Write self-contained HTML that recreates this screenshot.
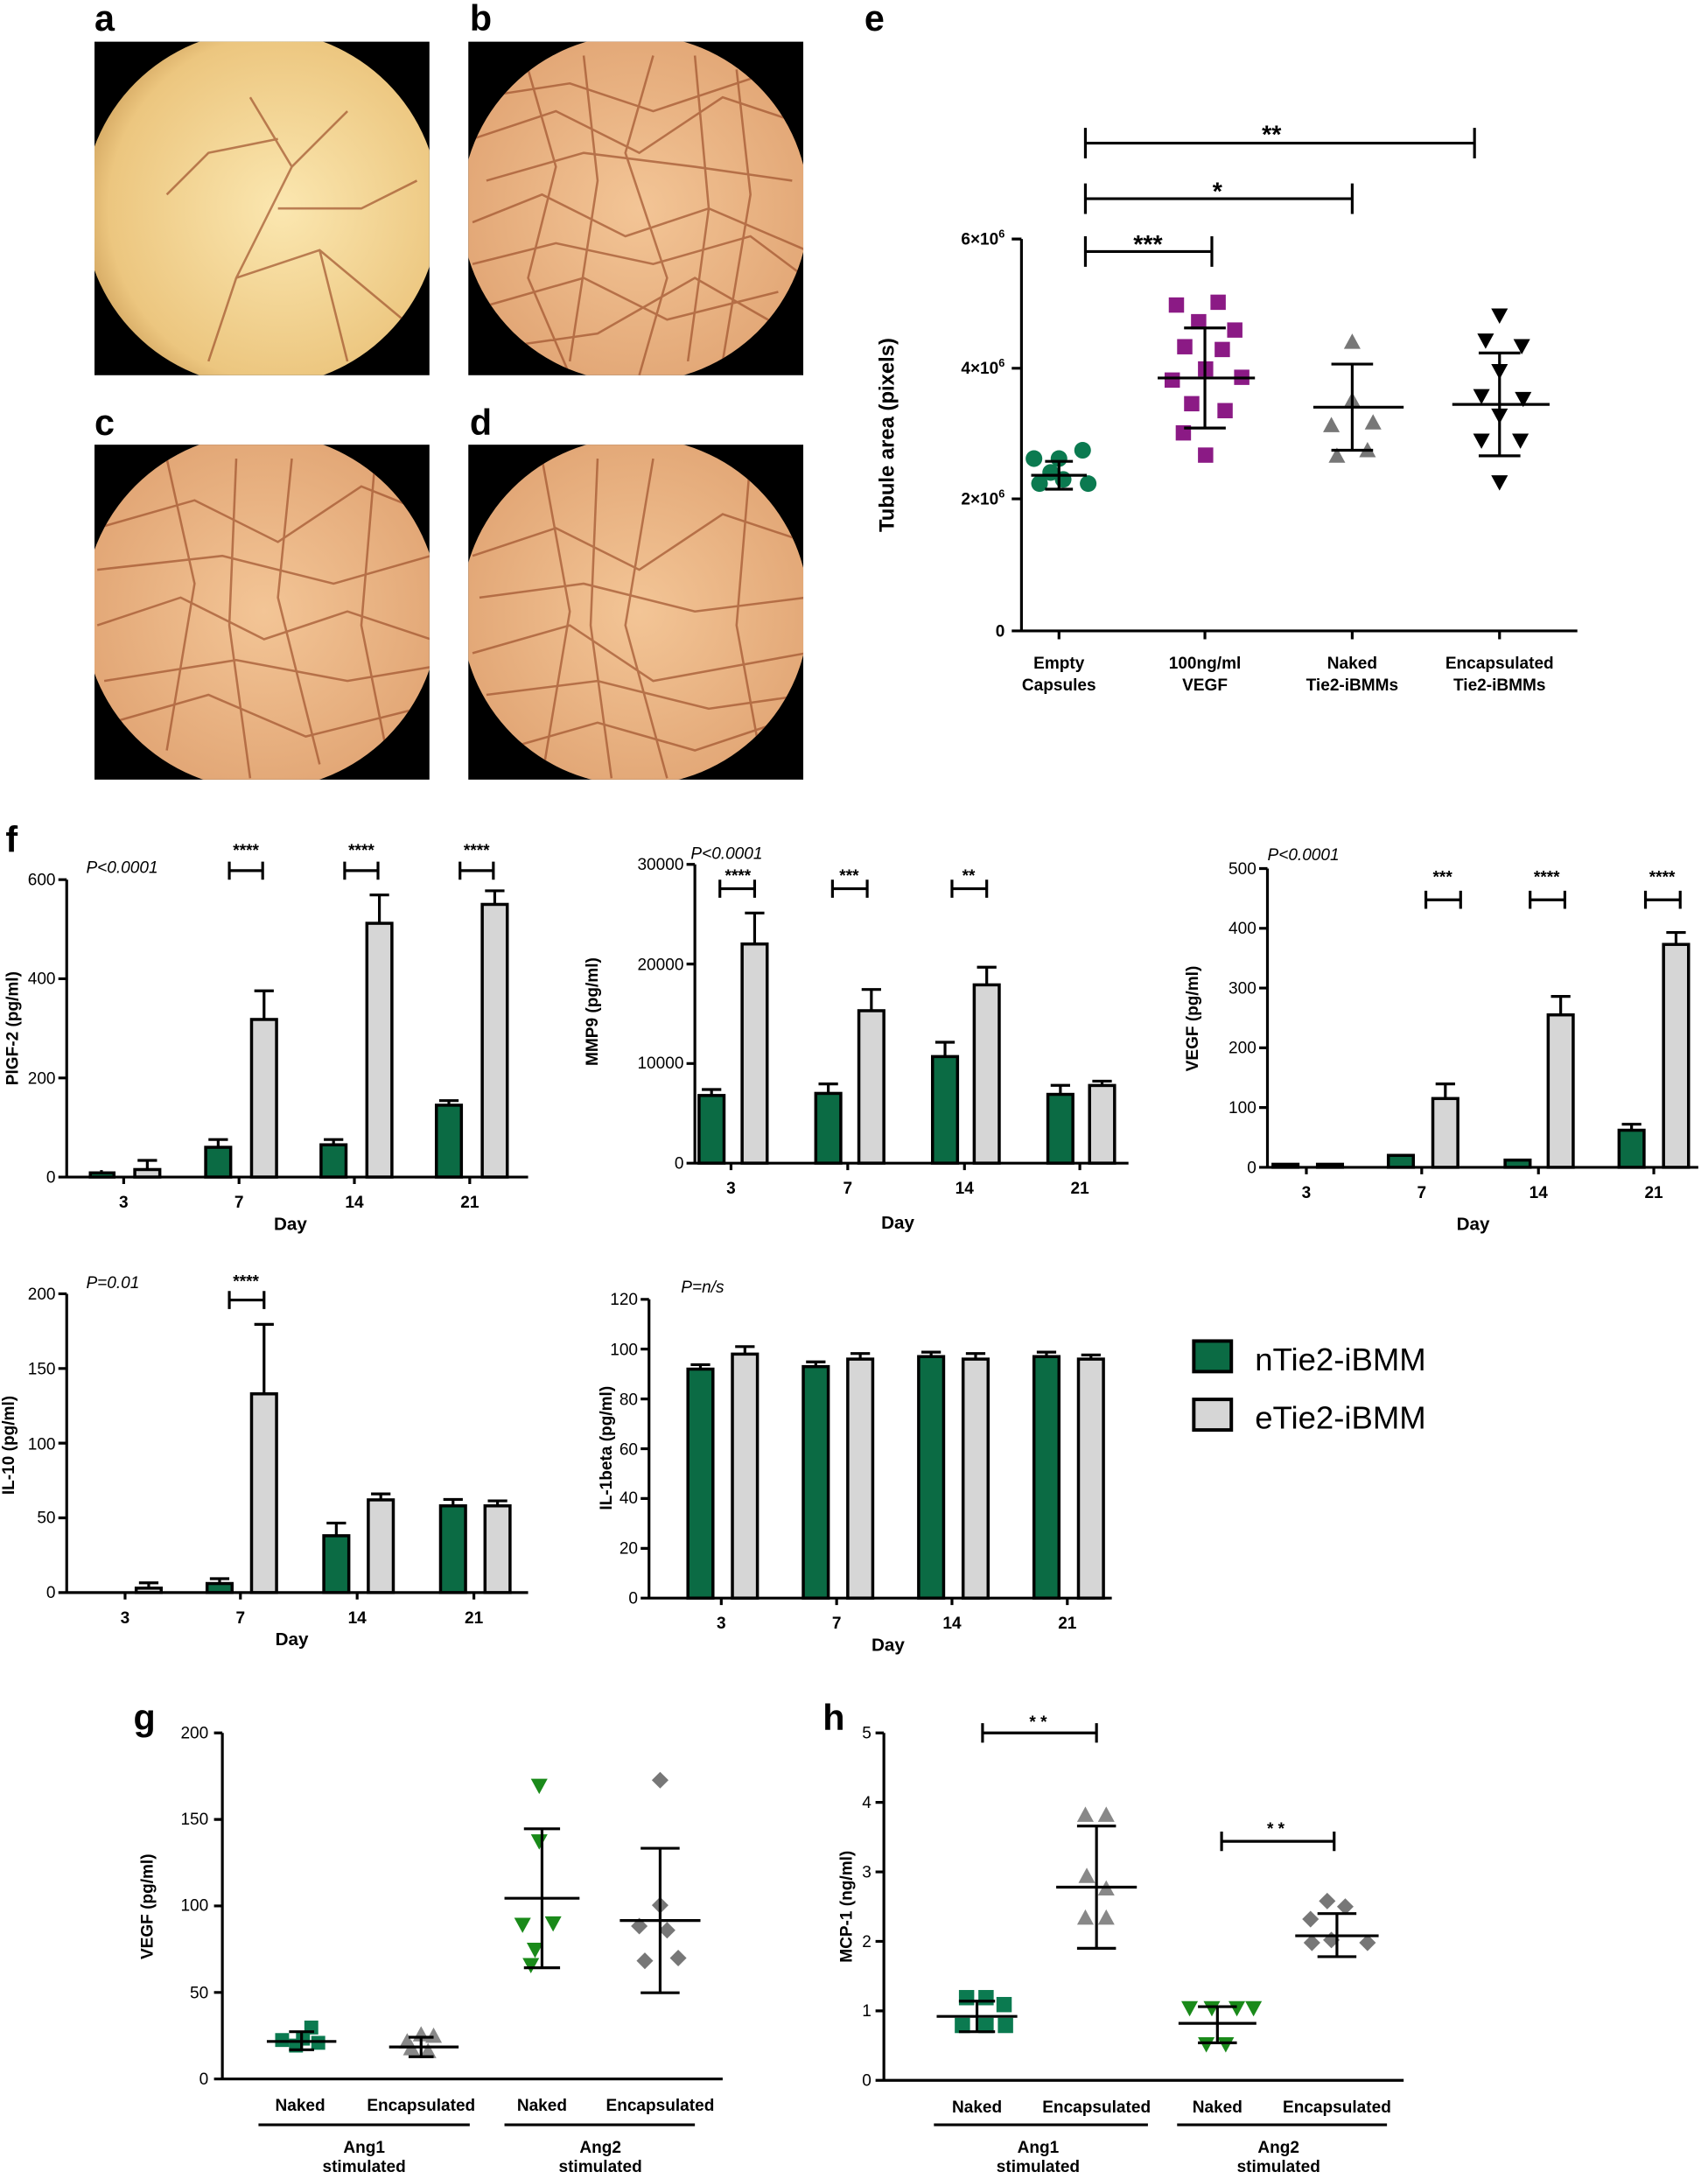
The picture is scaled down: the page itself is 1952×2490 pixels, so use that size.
<!DOCTYPE html>
<html><head><meta charset="utf-8"><style>
html,body{margin:0;padding:0;background:#fff}
svg{display:block}
text{font-family:"Liberation Sans",sans-serif;fill:#000}
.t{font-size:12px}
.b{font-weight:bold}
.L{font-size:26px;font-weight:bold}
.ax{stroke:#000;stroke-width:2;fill:none}
.g{fill:#0b6b44;stroke:#000;stroke-width:2.2}
.y{fill:#d6d6d6;stroke:#000;stroke-width:2.2}
.v{stroke:#a0522d;stroke-width:1.6;fill:none;opacity:.7}
</style></head><body>
<svg width="1952" height="2490" viewBox="0 0 1229 1568" preserveAspectRatio="none" xmlns="http://www.w3.org/2000/svg">
<defs>
<clipPath id="ra"><rect x="68" y="30" width="241" height="240"/></clipPath>
<clipPath id="rb"><rect x="337" y="30" width="241" height="240"/></clipPath>
<clipPath id="rc"><rect x="68" y="320" width="241" height="241"/></clipPath>
<clipPath id="rd"><rect x="337" y="320" width="241" height="241"/></clipPath>
<clipPath id="ca"><circle cx="188" cy="150" r="128"/></clipPath>
<clipPath id="cb"><circle cx="457" cy="150" r="125"/></clipPath>
<clipPath id="cc"><circle cx="188" cy="440" r="128"/></clipPath>
<clipPath id="cd"><circle cx="457" cy="440" r="125"/></clipPath>
<radialGradient id="ga" cx="0.55" cy="0.5" r="0.6"><stop offset="0" stop-color="#fbe7b0"/><stop offset="0.8" stop-color="#ecc67f"/><stop offset="1" stop-color="#c99a55"/></radialGradient>
<radialGradient id="gb" cx="0.5" cy="0.5" r="0.6"><stop offset="0" stop-color="#f3c596"/><stop offset="1" stop-color="#dfa170"/></radialGradient>
</defs>
<rect x="68" y="30" width="241" height="240" fill="#000"/>
<rect x="337" y="30" width="241" height="240" fill="#000"/>
<rect x="68" y="320" width="241" height="241" fill="#000"/>
<rect x="337" y="320" width="241" height="241" fill="#000"/>
<g clip-path="url(#ra)"><g clip-path="url(#ca)"><rect x="60" y="20" width="260" height="260" fill="url(#ga)"/>
<path class="v" d="M150 260 L170 200 L210 120 L250 80 M170 200 L230 180 L290 230 M210 120 L180 70 M200 150 L260 150 L300 130 M120 140 L150 110 L200 100 M230 180 L250 260"/></g></g>
<g clip-path="url(#rb)"><g clip-path="url(#cb)"><rect x="330" y="20" width="260" height="260" fill="url(#gb)"/>
<path class="v" d="M340 100 L400 80 L460 110 L520 70 L580 90 M340 160 L390 140 L450 170 L510 150 L580 180 M350 220 L420 200 L480 230 L560 210 M380 50 L400 120 L380 200 L410 270 M470 40 L450 110 L480 200 L460 270 M530 50 L540 140 L520 260 M350 130 L420 110 L500 120 L570 130 M360 250 L430 240 L500 200 L570 240 M340 190 L400 175 L470 190 L540 170 L580 200 M420 40 L430 130 L410 260 M500 40 L510 150 L495 260 M345 70 L410 60 L470 80 L560 50"/></g></g>
<g clip-path="url(#rc)"><g clip-path="url(#cc)"><rect x="60" y="310" width="260" height="260" fill="url(#gb)"/>
<path class="v" d="M70 380 L140 360 L200 390 L260 350 L310 370 M70 450 L130 430 L190 460 L250 440 L310 460 M80 520 L150 500 L220 530 L300 510 M120 330 L140 420 L120 540 M210 330 L200 430 L230 550 M270 330 L260 450 L280 550 M70 410 L160 400 L240 420 L310 400 M75 490 L170 475 L250 490 L310 480 M170 330 L165 450 L180 560"/></g></g>
<g clip-path="url(#rd)"><g clip-path="url(#cd)"><rect x="330" y="310" width="260" height="260" fill="url(#gb)"/>
<path class="v" d="M340 400 L400 380 L460 410 L520 370 L580 390 M340 470 L410 450 L470 490 L580 470 M360 540 L430 520 L500 540 L560 520 M390 330 L410 440 L390 560 M470 330 L450 450 L480 560 M540 330 L530 450 L550 560 M345 430 L420 420 L500 440 L580 430 M350 500 L430 490 L510 510 L580 500 M430 330 L425 450 L440 560"/></g></g>
<text class="L" x="68" y="22">a</text><text class="L" x="338" y="22">b</text>
<text class="L" x="68" y="313">c</text><text class="L" x="338" y="313">d</text>

<text class="L" x="622" y="22">e</text>
<path class="ax" d="M735 172 V454 H1135 M728 172 H735 M728 265 H735 M728 359 H735 M728 454 H735 M762 454 v6 M867 454 v6 M973 454 v6 M1079 454 v6"/>
<text class="t b" x="723" y="176" text-anchor="end">6×10<tspan font-size="8" dy="-5">6</tspan></text>
<text class="t b" x="723" y="269" text-anchor="end">4×10<tspan font-size="8" dy="-5">6</tspan></text>
<text class="t b" x="723" y="363" text-anchor="end">2×10<tspan font-size="8" dy="-5">6</tspan></text>
<text class="t b" x="723" y="458" text-anchor="end">0</text>
<text class="b" font-size="15" transform="translate(643,313) rotate(-90)" text-anchor="middle">Tubule area (pixels)</text>
<g class="t b" text-anchor="middle"><text x="762" y="481">Empty</text><text x="762" y="497">Capsules</text>
<text x="867" y="481">100ng/ml</text><text x="867" y="497">VEGF</text>
<text x="973" y="481">Naked</text><text x="973" y="497">Tie2-iBMMs</text>
<text x="1079" y="481">Encapsulated</text><text x="1079" y="497">Tie2-iBMMs</text></g>
<path class="ax" stroke-width="3" d="M781 92 v22 M1061 92 v22 M781 103 H1061 M781 132 v22 M973 132 v22 M781 143 H973 M781 170 v22 M872 170 v22 M781 181 H872"/>
<text x="915" y="103" font-size="18" font-weight="bold" text-anchor="middle">**</text>
<text x="876" y="144" font-size="18" font-weight="bold" text-anchor="middle">*</text>
<text x="826" y="182" font-size="18" font-weight="bold" text-anchor="middle">***</text>
<g fill="#0b7a50"><circle cx="744" cy="330" r="6"/><circle cx="762" cy="330" r="6"/><circle cx="779" cy="324" r="6"/><circle cx="748" cy="348" r="6"/><circle cx="765" cy="345" r="6"/><circle cx="783" cy="348" r="6"/><circle cx="756" cy="340" r="6"/></g>
<g fill="#8b1a85"><rect x="841" y="214" width="11" height="11"/><rect x="871" y="212" width="11" height="11"/><rect x="857" y="226" width="11" height="11"/><rect x="883" y="232" width="11" height="11"/><rect x="847" y="244" width="11" height="11"/><rect x="874" y="246" width="11" height="11"/><rect x="862" y="260" width="11" height="11"/><rect x="838" y="268" width="11" height="11"/><rect x="888" y="266" width="11" height="11"/><rect x="852" y="285" width="11" height="11"/><rect x="876" y="290" width="11" height="11"/><rect x="846" y="306" width="11" height="11"/><rect x="862" y="322" width="11" height="11"/></g>
<g fill="#777"><path d="M973 240l6 11h-12z"/><path d="M973 282l6 11h-12z"/><path d="M958 300l6 11h-12z"/><path d="M988 298l6 11h-12z"/><path d="M962 322l6 11h-12z"/><path d="M984 318l6 11h-12z"/></g>
<g fill="#000"><path d="M1073 222h12l-6 11z"/><path d="M1063 240h12l-6 11z"/><path d="M1089 244h12l-6 11z"/><path d="M1073 262h12l-6 11z"/><path d="M1060 280h12l-6 11z"/><path d="M1090 282h12l-6 11z"/><path d="M1073 294h12l-6 11z"/><path d="M1060 312h12l-6 11z"/><path d="M1088 312h12l-6 11z"/><path d="M1073 342h12l-6 11z"/></g>
<path class="ax" stroke-width="3" d="M742 342 H782 M762 332 v20 M752 332 h20 M752 352 h20 M833 272 H903 M867 236 v72 M852 236 h30 M852 308 h30 M945 293 H1010 M973 262 v62 M958 262 h30 M958 324 h30 M1045 291 H1115 M1079 254 v74 M1064 254 h30 M1064 328 h30"/>

<text class="L" x="4" y="613">f</text>
<path class="ax" d="M48 633 V847 H380 M42 633h6 M42 704.3h6 M42 775.7h6 M42 847h6 M89 847v5 M172 847v5 M255 847v5 M338 847v5"/>
<g class="t" text-anchor="end"><text x="40" y="637">600</text><text x="40" y="708">400</text><text x="40" y="780">200</text><text x="40" y="851">0</text></g>
<g class="t b" text-anchor="middle"><text x="89" y="869">3</text><text x="172" y="869">7</text><text x="255" y="869">14</text><text x="338" y="869">21</text><text x="209" y="885" font-size="13">Day</text></g>
<text class="t b" transform="translate(13,740) rotate(-90)" text-anchor="middle">PlGF-2 (pg/ml)</text>
<text class="t" x="62" y="628" font-style="italic">P&lt;0.0001</text>
<path class="ax" d="M73 847v-5 M106 847v-8 M106 839v-4 M99 835h14 M157 826v-6 M150 820h14 M190 733v-20 M183 713h14 M240 824v-4 M233 820h14 M273 664v-20 M266 644h14 M323 795v-3 M316 792h14 M356 651v-10 M349 641h14"/>
<rect class="g" x="65" y="844" width="17" height="3"/><rect class="y" x="97" y="841.6" width="18" height="5.4"/>
<rect class="g" x="148" y="825.6" width="18" height="21.4"/><rect class="y" x="181" y="733.6" width="18" height="113.4"/>
<rect class="g" x="231" y="823.8" width="18" height="23.2"/><rect class="y" x="264" y="664.4" width="18" height="182.6"/>
<rect class="g" x="314" y="795.3" width="18" height="51.7"/><rect class="y" x="347" y="650.8" width="18" height="196.2"/>
<path class="ax" stroke-width="3" d="M165 620v13 M189 620v13 M165 626.5h24 M248 620v13 M272 620v13 M248 626.5h24 M331 620v13 M355 620v13 M331 626.5h24"/>
<g class="t b" text-anchor="middle"><text x="177" y="616">****</text><text x="260" y="616">****</text><text x="343" y="616">****</text></g>

<path class="ax" d="M500 622 V837 H812 M494 622h6 M494 693.7h6 M494 765.3h6 M494 837h6 M526 837v5 M610 837v5 M694 837v5 M777 837v5"/>
<g class="t" text-anchor="end"><text x="492" y="626">30000</text><text x="492" y="698">20000</text><text x="492" y="769">10000</text><text x="492" y="841">0</text></g>
<g class="t b" text-anchor="middle"><text x="526" y="859">3</text><text x="610" y="859">7</text><text x="694" y="859">14</text><text x="777" y="859">21</text><text x="646" y="884" font-size="13">Day</text></g>
<text class="t b" transform="translate(430,728) rotate(-90)" text-anchor="middle">MMP9 (pg/ml)</text>
<text class="t" x="497" y="618" font-style="italic">P&lt;0.0001</text>
<path class="ax" d="M512 788v-4 M505 784h14 M543 679v-22 M536 657h14 M596 787v-7 M589 780h14 M627 727v-15 M620 712h14 M680 760v-10 M673 750h14 M710 708v-12 M703 696h14 M763 787v-6 M756 781h14 M793 781v-3 M786 778h14"/>
<rect class="g" x="503" y="788.3" width="18" height="48.7"/><rect class="y" x="534" y="679.3" width="18" height="157.7"/>
<rect class="g" x="587" y="786.8" width="18" height="50.2"/><rect class="y" x="618" y="727.3" width="18" height="109.7"/>
<rect class="g" x="671" y="760.3" width="18" height="76.7"/><rect class="y" x="701" y="708.7" width="18" height="128.3"/>
<rect class="g" x="754" y="787.5" width="18" height="49.5"/><rect class="y" x="784" y="781.1" width="18" height="55.9"/>
<path class="ax" stroke-width="3" d="M518 633v13 M543 633v13 M518 639.5h25 M599 633v13 M624 633v13 M599 639.5h25 M685 633v13 M710 633v13 M685 639.5h25"/>
<g class="t b" text-anchor="middle"><text x="531" y="634">****</text><text x="611" y="634">***</text><text x="697" y="634">**</text></g>

<path class="ax" d="M912 625 V840 H1222 M906 625h6 M906 668h6 M906 711h6 M906 754h6 M906 797h6 M906 840h6 M940 840v5 M1023 840v5 M1107 840v5 M1190 840v5"/>
<g class="t" text-anchor="end"><text x="904" y="629">500</text><text x="904" y="672">400</text><text x="904" y="715">300</text><text x="904" y="758">200</text><text x="904" y="801">100</text><text x="904" y="844">0</text></g>
<g class="t b" text-anchor="middle"><text x="940" y="862">3</text><text x="1023" y="862">7</text><text x="1107" y="862">14</text><text x="1190" y="862">21</text><text x="1060" y="885" font-size="13">Day</text></g>
<text class="t b" transform="translate(862,733) rotate(-90)" text-anchor="middle">VEGF (pg/ml)</text>
<text class="t" x="912" y="619" font-style="italic">P&lt;0.0001</text>
<path class="ax" d="M1040 790v-10 M1033 780h14 M1123 730v-13 M1116 717h14 M1174 813v-4 M1167 809h14 M1206 680v-9 M1199 671h14"/>
<rect class="g" x="916" y="837.8" width="18" height="2.2"/><rect class="y" x="948" y="837.8" width="18" height="2.2"/>
<rect class="g" x="999" y="831.4" width="18" height="8.6"/><rect class="y" x="1031" y="790.5" width="18" height="49.5"/>
<rect class="g" x="1083" y="834.8" width="18" height="5.2"/><rect class="y" x="1114" y="730.3" width="18" height="109.7"/>
<rect class="g" x="1165" y="813.3" width="18" height="26.7"/><rect class="y" x="1197" y="679.6" width="18" height="160.4"/>
<path class="ax" stroke-width="3" d="M1026 641v13 M1051 641v13 M1026 647.5h25 M1101 641v13 M1126 641v13 M1101 647.5h25 M1184 641v13 M1209 641v13 M1184 647.5h25"/>
<g class="t b" text-anchor="middle"><text x="1038" y="635">***</text><text x="1113" y="635">****</text><text x="1196" y="635">****</text></g>

<path class="ax" d="M48 931 V1146 H380 M42 931h6 M42 984.75h6 M42 1038.5h6 M42 1092.25h6 M42 1146h6 M90 1146v5 M173 1146v5 M257 1146v5 M341 1146v5"/>
<g class="t" text-anchor="end"><text x="40" y="935">200</text><text x="40" y="989">150</text><text x="40" y="1043">100</text><text x="40" y="1096">50</text><text x="40" y="1150">0</text></g>
<g class="t b" text-anchor="middle"><text x="90" y="1168">3</text><text x="173" y="1168">7</text><text x="257" y="1168">14</text><text x="341" y="1168">21</text><text x="210" y="1184" font-size="13">Day</text></g>
<text class="t b" transform="translate(10,1040) rotate(-90)" text-anchor="middle">IL-10 (pg/ml)</text>
<text class="t" x="62" y="927" font-style="italic">P=0.01</text>
<path class="ax" d="M107 1143v-4 M100 1139h14 M158 1140v-4 M151 1136h14 M190 1003v-50 M183 953h14 M242 1105v-9 M235 1096h14 M274 1079v-4 M267 1075h14 M326 1084v-5 M319 1079h14 M358 1084v-4 M351 1080h14"/>
<rect class="y" x="98" y="1142.8" width="18" height="3.2"/>
<rect class="g" x="149" y="1139.5" width="18" height="6.5"/><rect class="y" x="181" y="1003" width="18" height="143"/>
<rect class="g" x="233" y="1105.1" width="18" height="40.9"/><rect class="y" x="265" y="1079.3" width="18" height="66.7"/>
<rect class="g" x="317" y="1083.6" width="18" height="62.4"/><rect class="y" x="349" y="1083.6" width="18" height="62.4"/>
<path class="ax" stroke-width="3" d="M165 929v13 M190 929v13 M165 935.5h25"/>
<text class="t b" x="177" y="926" text-anchor="middle">****</text>

<path class="ax" d="M467 935 V1150 H800 M461 935h6 M461 970.8h6 M461 1006.7h6 M461 1042.5h6 M461 1078.3h6 M461 1114.2h6 M461 1150h6 M519 1150v5 M602 1150v5 M685 1150v5 M768 1150v5"/>
<g class="t" text-anchor="end"><text x="459" y="939">120</text><text x="459" y="975">100</text><text x="459" y="1011">80</text><text x="459" y="1047">60</text><text x="459" y="1082">40</text><text x="459" y="1118">20</text><text x="459" y="1154">0</text></g>
<g class="t b" text-anchor="middle"><text x="519" y="1172">3</text><text x="602" y="1172">7</text><text x="685" y="1172">14</text><text x="768" y="1172">21</text><text x="639" y="1188" font-size="13">Day</text></g>
<text class="t b" transform="translate(440,1042) rotate(-90)" text-anchor="middle">IL-1beta (pg/ml)</text>
<text class="t" x="490" y="930" font-style="italic">P=n/s</text>
<path class="ax" d="M504 985v-3 M497 982h14 M536 974v-5 M529 969h14 M587 983v-3 M580 980h14 M619 978v-4 M612 974h14 M670 976v-3 M663 973h14 M702 978v-4 M695 974h14 M753 976v-3 M746 973h14 M785 978v-3 M778 975h14"/>
<rect class="g" x="495" y="985.2" width="18" height="164.8"/><rect class="y" x="527" y="974.4" width="18" height="175.6"/>
<rect class="g" x="578" y="983.4" width="18" height="166.6"/><rect class="y" x="610" y="978" width="18" height="172"/>
<rect class="g" x="661" y="976.2" width="18" height="173.8"/><rect class="y" x="693" y="978" width="18" height="172"/>
<rect class="g" x="744" y="976.2" width="18" height="173.8"/><rect class="y" x="776" y="978" width="18" height="172"/>

<rect x="859" y="965" width="27" height="22" fill="#0b6b44" stroke="#000" stroke-width="2.5"/>
<rect x="859" y="1007" width="27" height="22" fill="#d6d6d6" stroke="#000" stroke-width="2.5"/>
<text x="903" y="986" font-size="23">nTie2-iBMM</text>
<text x="903" y="1028" font-size="23">eTie2-iBMM</text>

<text class="L" x="96" y="1245">g</text>
<path class="ax" d="M160 1247 V1496 H520 M154 1247h6 M154 1309.25h6 M154 1371.5h6 M154 1433.75h6 M154 1496h6"/>
<g class="t" text-anchor="end" font-size="11"><text x="150" y="1251">200</text><text x="150" y="1313">150</text><text x="150" y="1375">100</text><text x="150" y="1438">50</text><text x="150" y="1500">0</text></g>
<text class="t b" font-size="11" transform="translate(110,1372) rotate(-90)" text-anchor="middle">VEGF (pg/ml)</text>
<g class="t b" font-size="11" text-anchor="middle"><text x="216" y="1519">Naked</text><text x="303" y="1519">Encapsulated</text><text x="390" y="1519">Naked</text><text x="475" y="1519">Encapsulated</text>
<text x="262" y="1549">Ang1</text><text x="262" y="1563">stimulated</text><text x="432" y="1549">Ang2</text><text x="432" y="1563">stimulated</text></g>
<path class="ax" d="M186 1529H338 M363 1529H500"/>
<g fill="#0b7a50"><rect x="198" y="1463" width="10" height="10"/><rect x="208" y="1467" width="10" height="10"/><rect x="219" y="1454" width="10" height="10"/><rect x="224" y="1465" width="10" height="10"/><rect x="213" y="1462" width="10" height="10"/></g>
<g fill="#1a8a1a"><path d="M382 1280h12l-6 11z"/><path d="M382 1320h12l-6 11z"/><path d="M370 1380h12l-6 11z"/><path d="M392 1379h12l-6 11z"/><path d="M379 1398h12l-6 11z"/><path d="M376 1409h12l-6 11z"/></g>
<g fill="#888"><path d="M293 1463l6 11h-12z"/><path d="M303 1458l6 11h-12z"/><path d="M312 1459l6 11h-12z"/><path d="M296 1468l6 11h-12z"/><path d="M308 1470l6 11h-12z"/></g>
<g fill="#777"><path d="M475 1275l6 6-6 6-6-6z"/><path d="M475 1365l6 6-6 6-6-6z"/><path d="M460 1380l6 6-6 6-6-6z"/><path d="M480 1383l6 6-6 6-6-6z"/><path d="M488 1403l6 6-6 6-6-6z"/><path d="M464 1405l6 6-6 6-6-6z"/></g>
<path class="ax" stroke-width="2.5" d="M192 1469H242 M217 1462v13 M208 1462h18 M208 1475h18 M280 1473H330 M303 1466v14 M294 1466h18 M294 1480h18 M363 1366H417 M390 1316v100 M377 1316h26 M377 1416h26 M446 1382H504 M475 1330v104 M461 1330h28 M461 1434h28"/>

<text class="L" x="592" y="1245">h</text>
<path class="ax" d="M636 1247 V1497 H1010 M630 1247h6 M630 1297h6 M630 1347h6 M630 1397h6 M630 1447h6 M630 1497h6"/>
<g class="t" text-anchor="end" font-size="11"><text x="627" y="1251">5</text><text x="627" y="1301">4</text><text x="627" y="1351">3</text><text x="627" y="1401">2</text><text x="627" y="1451">1</text><text x="627" y="1501">0</text></g>
<text class="t b" font-size="11" transform="translate(613,1372) rotate(-90)" text-anchor="middle">MCP-1 (ng/ml)</text>
<g class="t b" font-size="11" text-anchor="middle"><text x="703" y="1520">Naked</text><text x="789" y="1520">Encapsulated</text><text x="876" y="1520">Naked</text><text x="962" y="1520">Encapsulated</text>
<text x="747" y="1549">Ang1</text><text x="747" y="1563">stimulated</text><text x="920" y="1549">Ang2</text><text x="920" y="1563">stimulated</text></g>
<path class="ax" d="M672 1529H826 M847 1529H998"/>
<path class="ax" stroke-width="2" d="M707 1240v14 M789 1240v14 M707 1247H789 M879 1318v14 M960 1318v14 M879 1325H960"/>
<g class="t b" text-anchor="middle"><text x="747" y="1243">* *</text><text x="918" y="1320">* *</text></g>
<g fill="#0b7a50"><rect x="690" y="1432" width="11" height="11"/><rect x="704" y="1432" width="11" height="11"/><rect x="717" y="1437" width="11" height="11"/><rect x="687" y="1452" width="11" height="11"/><rect x="704" y="1452" width="11" height="11"/><rect x="718" y="1452" width="11" height="11"/></g>
<g fill="#888"><path d="M781 1300l6 11h-12z"/><path d="M796 1300l6 11h-12z"/><path d="M782 1344l6 11h-12z"/><path d="M796 1353l6 11h-12z"/><path d="M781 1374l6 11h-12z"/><path d="M796 1374l6 11h-12z"/></g>
<g fill="#1a8a1a"><path d="M850 1440h12l-6 11z"/><path d="M866 1440h12l-6 11z"/><path d="M884 1440h12l-6 11z"/><path d="M896 1440h12l-6 11z"/><path d="M862 1466h12l-6 11z"/><path d="M876 1466h12l-6 11z"/></g>
<g fill="#777"><path d="M955 1362l6 6-6 6-6-6z"/><path d="M968 1366l6 6-6 6-6-6z"/><path d="M943 1375l6 6-6 6-6-6z"/><path d="M958 1390l6 6-6 6-6-6z"/><path d="M944 1392l6 6-6 6-6-6z"/><path d="M984 1392l6 6-6 6-6-6z"/></g>
<path class="ax" stroke-width="2.5" d="M674 1451H732 M703 1440v22 M690 1440h26 M690 1462h26 M760 1358H818 M789 1314v88 M775 1314h28 M775 1402h28 M848 1456H904 M876 1444v26 M862 1444h28 M862 1470h28 M932 1393H992 M962 1377v31 M948 1377h28 M948 1408h28"/>
</svg>
</body></html>
